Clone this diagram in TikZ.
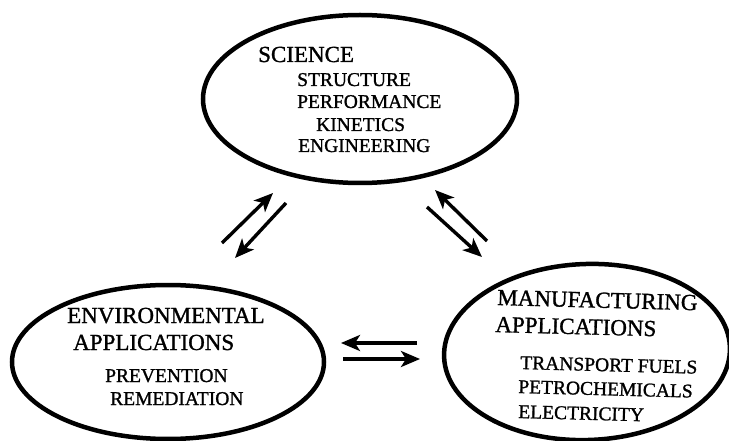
\documentclass[tikz,border=0pt]{standalone}
\usepackage{fontspec}
\setmainfont{Liberation Serif}[BoldFont={Liberation Serif}, BoldFeatures={FakeBold=1.2}]
\usetikzlibrary{shapes.geometric,arrows.meta}

\begin{document}
\begin{tikzpicture}[x=1pt,y=-1pt,
    bubble/.style={ellipse, draw, line width=4.5pt, inner sep=0pt},
    head/.style={anchor=base west, inner sep=0pt, font=\fontsize{23}{26}\selectfont\bfseries},
    item/.style={anchor=base west, inner sep=0pt, font=\fontsize{19.5}{22}\selectfont\bfseries},
    flow/.style={line width=3.4pt, -{Stealth[length=19pt,width=16pt,inset=5pt]}}]

\useasboundingbox (0,0) rectangle (729,441);

% The three bubbles
\node[bubble, minimum width=314pt, minimum height=168pt] (sci) at (360,99) {};
\node[bubble, minimum width=312pt, minimum height=154pt] (env) at (168,362) {};
\node[bubble, minimum width=286pt, minimum height=176pt, rotate=2] (man) at (587,352) {};

% (a) Science
\node[head] (scihead) at (258,62) {SCIENCE};
\node[item] (structure) at (297,86) {STRUCTURE};
\node[item] (performance) at (297,108) {PERFORMANCE};
\node[item] (kinetics) at (316,131) {KINETICS};
\node[item] (engineering) at (298,152) {ENGINEERING};

% (b) Environmental applications
\node[head] (envhead) at (67,323) {ENVIRONMENTAL};
\node[head] (envapp) at (73,350) {APPLICATIONS};
\node[item] (prevention) at (105,382) {PREVENTION};
\node[item] (remediation) at (110,405) {REMEDIATION};

% (c) Manufacturing applications
\begin{scope}[every node/.append style={rotate=-1.5}]
    \node[head] (manhead) at (497,305) {MANUFACTURING};
    \node[head] (manapp) at (495,332) {APPLICATIONS};
    \node[item] (fuels) at (520,369) {TRANSPORT FUELS};
    \node[item] (petro) at (518,393) {PETROCHEMICALS};
    \node[item] (electricity) at (518,418) {ELECTRICITY};
\end{scope}

% Arrow end points
\coordinate (es0) at (222,243); \coordinate (es1) at (273,193);
\coordinate (se0) at (286,203); \coordinate (se1) at (235,258);
\coordinate (ms0) at (487,241); \coordinate (ms1) at (435,190);
\coordinate (sm0) at (427,207); \coordinate (sm1) at (482,257);
\coordinate (me0) at (417,343); \coordinate (me1) at (341,343);
\coordinate (em0) at (343,359); \coordinate (em1) at (420,359);

% Two-way exchanges
\foreach \a/\b in {es0/es1, se0/se1, ms0/ms1, sm0/sm1, me0/me1, em0/em1}
    {\draw[flow] (\a) -- (\b);}

\end{tikzpicture}
\end{document}
